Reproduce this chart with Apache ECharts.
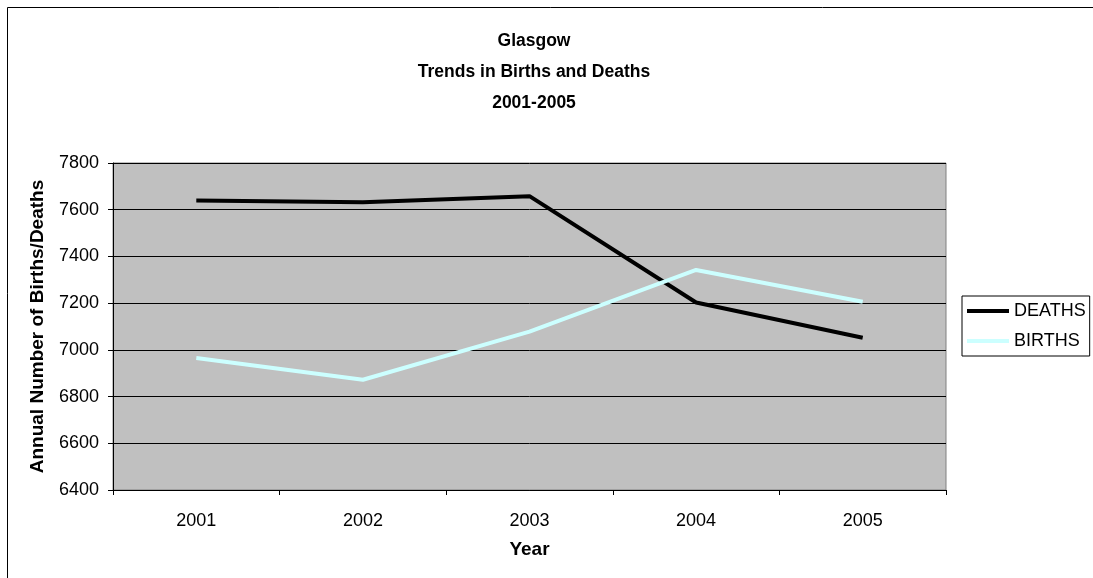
<!DOCTYPE html>
<html>
<head>
<meta charset="utf-8">
<title>Glasgow Trends in Births and Deaths</title>
<script src="https://cdn.jsdelivr.net/npm/echarts@6/dist/echarts.min.js"></script>
<style>
  html, body { margin: 0; padding: 0; background: #fff; }
  #chart { width: 1093px; height: 578px; }
</style>
</head>
<body>
<div id="chart"></div>
<script>
var years = ['2001', '2002', '2003', '2004', '2005'];
var deaths = [7639, 7632, 7658, 7203, 7052];
var births = [6965, 6872, 7078, 7342, 7206];

var myChart = echarts.init(document.getElementById('chart'));
var font = 'Arial, "Liberation Sans", sans-serif';

var option = {
  animation: false,
  backgroundColor: '#fff',
  textStyle: { fontFamily: font },
  title: {
    text: 'Glasgow\nTrends in Births and Deaths\n2001-2005',
    left: 529,
    top: 21,
    textAlign: 'center',
    textStyle: { fontSize: 17.5, fontWeight: 'bold', color: '#000', lineHeight: 31, fontFamily: font }
  },
  // outer chart frame (only top/left visible in the crop)
  graphic: [{
    type: 'rect',
    shape: { x: 7.5, y: 7.5, width: 1200, height: 700 },
    style: { fill: 'none', stroke: '#000', lineWidth: 1 },
    silent: true
  }],
  legend: {
    orient: 'vertical',
    left: 962,
    top: 296,
    padding: [6, 4, 6, 5],
    icon: 'rect',
    itemWidth: 42,
    itemHeight: 4,
    itemGap: 12,
    borderColor: '#000',
    borderWidth: 1,
    borderRadius: 0,
    backgroundColor: '#fff',
    textStyle: { fontSize: 18, color: '#000', fontFamily: font },
    data: ['DEATHS', 'BIRTHS']
  },
  grid: {
    left: 113,
    top: 163,
    right: 147,
    bottom: 88,
    show: true,
    backgroundColor: '#C0C0C0',
    borderColor: '#808080',
    borderWidth: 1
  },
  xAxis: {
    type: 'category',
    data: years,
    boundaryGap: true,
    name: 'Year',
    nameLocation: 'middle',
    nameGap: 50,
    nameTextStyle: { fontSize: 19, fontWeight: 'bold', color: '#000' },
    axisLine: { lineStyle: { color: '#000', width: 1 } },
    axisTick: { show: true, inside: false, length: 5, lineStyle: { color: '#000' } },
    axisLabel: { fontSize: 18, color: '#000', margin: 22 }
  },
  yAxis: {
    type: 'value',
    min: 6400,
    max: 7800,
    interval: 200,
    name: 'Annual Number of Births/Deaths',
    nameLocation: 'middle',
    nameGap: 66,
    nameTextStyle: { fontSize: 19, fontWeight: 'bold', color: '#000' },
    axisLine: { show: true, lineStyle: { color: '#000', width: 1 } },
    axisTick: { show: true, inside: false, length: 5, lineStyle: { color: '#000' } },
    axisLabel: {
      fontSize: 18,
      color: '#000',
      margin: 14,
      formatter: function (v) { return String(v); }
    },
    splitLine: { show: true, lineStyle: { color: '#000', width: 1 } }
  },
  series: [
    {
      name: 'DEATHS',
      type: 'line',
      data: deaths,
      symbol: 'none',
      color: '#000',
      lineStyle: { color: '#000', width: 4 }
    },
    {
      name: 'BIRTHS',
      type: 'line',
      data: births,
      symbol: 'none',
      color: '#CCFFFF',
      lineStyle: { color: '#CCFFFF', width: 4 }
    }
  ]
};

myChart.setOption(option);
</script>
</body>
</html>
